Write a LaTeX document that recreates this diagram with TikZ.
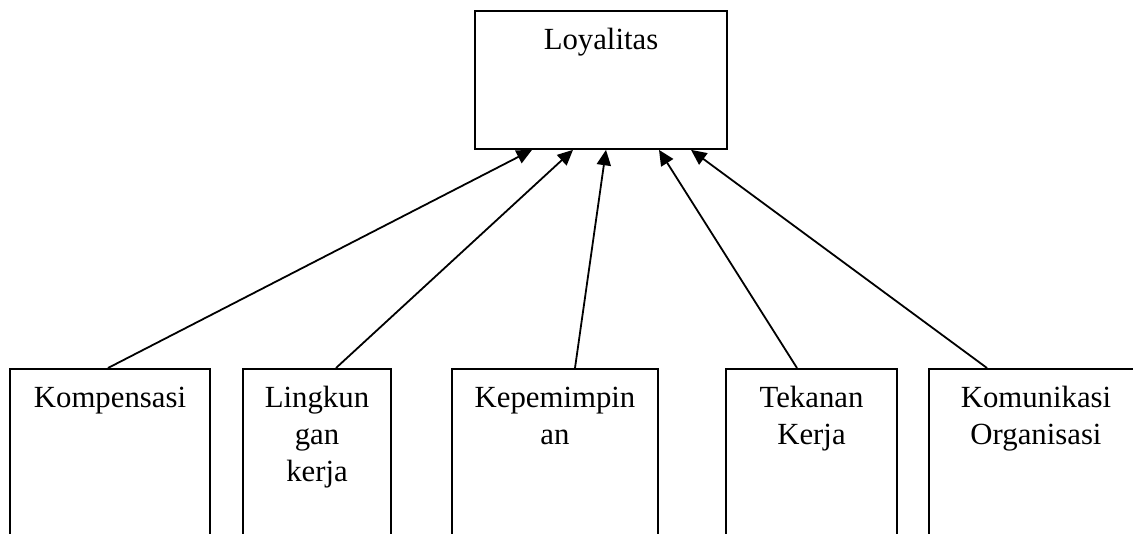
\documentclass[tikz,border=0pt]{standalone}
\usepackage{fontspec}
\setmainfont{Liberation Serif}
\usepackage{tikz}
\usetikzlibrary{arrows.meta}

\begin{document}
\begin{tikzpicture}[x=0.39pt,y=-0.39pt,
  kotak/.style={draw,line width=0.75pt,inner xsep=0pt,inner ysep=0pt,align=center,anchor=north,
    text height=15.2pt,text depth=59.7pt,font=\fontsize{12}{14.3}\selectfont},
  panah/.style={line width=0.7pt,-{Triangle[length=6pt,width=5.5pt]}}]

\useasboundingbox (0,0) rectangle (1133,534);
\clip (0,0) rectangle (1133,534);

\node[kotak,text width=98.28pt,text depth=38.6pt] (0) at (601,10){Loyalitas};
\node[kotak,text width=78pt] (1) at (110,368){Kompensasi};
\node[kotak,text width=57.72pt] (2) at (317,368){Lingkun\\gan\\kerja};
\node[kotak,text width=80.34pt] (3) at (555,368){Kepemimpin\\an};
\node[kotak,text width=66.69pt] (4) at (811.5,368){Tekanan\\Kerja};
\node[kotak,text width=83.46pt] (5) at (1036,368){Komunikasi\\Organisasi};
\draw[panah] ([xshift=-0.78pt]1.north) -- ([xshift=-26.9pt]0.south);
\draw[panah] ([xshift=7.41pt]2.north) -- ([xshift=-10.92pt]0.south);
\draw[panah] ([xshift=7.8pt]3.north) -- ([xshift=1.95pt]0.south);
\draw[panah] ([xshift=-5.66pt]4.north) -- ([xshift=22.62pt]0.south);
\draw[panah] ([xshift=-19.11pt]5.north) -- ([xshift=35.1pt]0.south);

\end{tikzpicture}
\end{document}
